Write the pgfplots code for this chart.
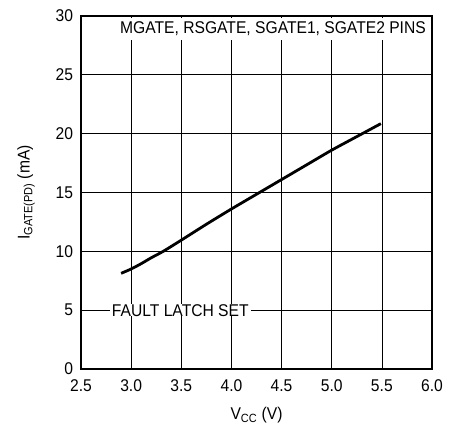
\documentclass[border=0pt]{standalone}
\usepackage{fontspec}
\setmainfont{Liberation Sans}[FakeStretch=0.92]
\usepackage{pgfplots}
\pgfplotsset{compat=1.18}
\begin{document}
\fontsize{17}{20}\selectfont
\begin{tikzpicture}
\begin{axis}[name=ax, scale only axis, width=351pt, height=353pt,
  xmin=2.5, xmax=6, ymin=0, ymax=30,
  xtick={2.5,3.0,3.5,4.0,4.5,5.0,5.5,6.0},
  ytick={0,5,10,15,20,25,30},
  /pgf/number format/assume math mode=true,
  grid=major, major grid style={black, line width=0.7pt},
  axis line style={line width=1.3pt},
  major tick length=0pt,
  tick label style={font=\fontsize{17}{20}\selectfont},
  xticklabel style={/pgf/number format/fixed, /pgf/number format/fixed zerofill, /pgf/number format/precision=1, yshift=-5pt},
  yticklabel style={xshift=-2pt},
  xlabel={V\textsubscript{CC} (V)},
  ylabel={I\textsubscript{GATE(PD)} (mA)},
  xlabel style={at={(axis description cs:0.5,0)}, anchor=north, yshift=-38pt, inner sep=0pt, font=\fontsize{17}{20}\selectfont},
  ylabel style={at={(axis description cs:-0.131,0.5)}, anchor=south, inner sep=0pt, font=\fontsize{17}{20}\selectfont},
]
\addplot[black, line width=2.8pt, smooth, tension=0.4] coordinates {
  (2.90,8.13) (3.00,8.50) (3.10,8.95) (3.20,9.45) (3.32,10.0) (3.50,10.95)
  (3.75,12.3) (4.00,13.6) (4.28,15.0) (4.50,16.1) (4.75,17.35) (5.00,18.6)
  (5.25,19.75) (5.49,20.85)
};
\node[anchor=east, fill=white, inner xsep=3pt, inner ysep=4pt, font=\fontsize{17}{20}\selectfont] at (axis cs:5.97,28.9) {MGATE, RSGATE, SGATE1, SGATE2 PINS};
\node[fill=white, inner xsep=2pt, inner ysep=0pt, font=\fontsize{17}{20}\selectfont] at (axis cs:3.49,5) {FAULT LATCH SET};
\draw[line width=1.3pt] (rel axis cs:0,0) rectangle (rel axis cs:1,1);
\end{axis}
\path ([xshift=-81pt,yshift=-59pt]ax.south west) rectangle ([xshift=30pt,yshift=16pt]ax.north east);
\end{tikzpicture}
\end{document}
